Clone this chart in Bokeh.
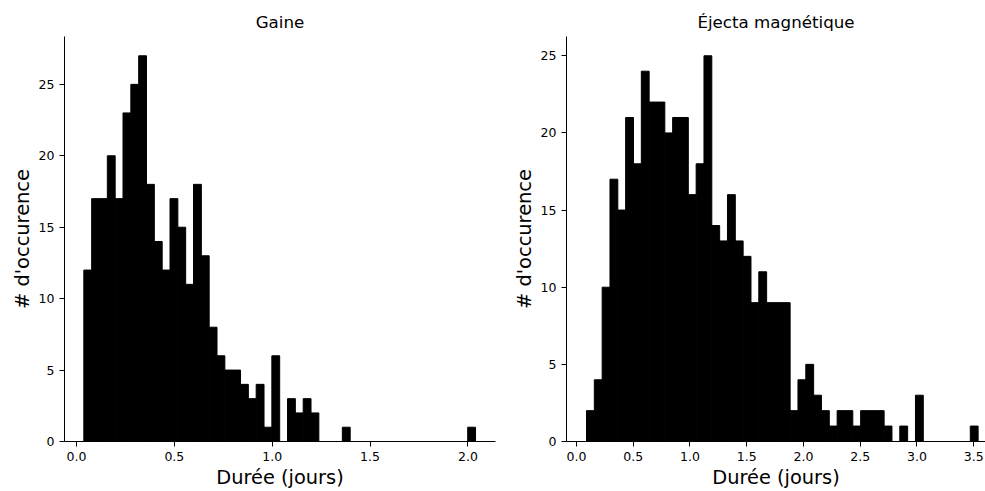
import numpy as np
from bokeh.plotting import figure
from bokeh.layouts import row
from bokeh.models import Range1d, FixedTicker, PrintfTickFormatter
from bokeh.embed import file_html
from bokeh.resources import INLINE

# ---- data (50-bin histograms) ----
gaine_counts = [12, 17, 17, 20, 17, 23, 25, 27, 18, 14,
                12, 17, 15, 11, 18, 13, 8, 6, 5, 5,
                4, 3, 4, 1, 6, 0, 3, 2, 3, 2,
                0, 0, 0, 1, 0, 0, 0, 0, 0, 0,
                0, 0, 0, 0, 0, 0, 0, 0, 0, 1]
gaine_min, gaine_max = 0.0375, 2.039

ejecta_counts = [2, 4, 10, 17, 15, 21, 18, 24, 22, 22,
                 20, 21, 21, 16, 18, 25, 14, 13, 16, 13,
                 12, 9, 11, 9, 9, 9, 2, 4, 5, 3,
                 2, 1, 2, 2, 1, 2, 2, 2, 1, 0,
                 1, 0, 3, 0, 0, 0, 0, 0, 0, 1]
ejecta_min, ejecta_max = 0.088, 3.539

gaine_xticks = [0.0, 0.5, 1.0, 1.5, 2.0]
ejecta_xticks = [0.0, 0.5, 1.0, 1.5, 2.0, 2.5, 3.0, 3.5]
y_ticks = [0, 5, 10, 15, 20, 25]

titles = ["Gaine", "Éjecta magnétique"]
x_label = "Durée (jours)"
y_label = "# d'occurence"

FONT = "DejaVu Sans"


def make_fig(title, counts, lo, hi, xticks, width, b_left, b_right,
             xr, y_end, title_offset):
    p = figure(width=width, height=491, output_backend="svg",
               toolbar_location=None, title=title,
               x_range=Range1d(*xr), y_range=Range1d(0, y_end),
               min_border_left=b_left, min_border_right=b_right,
               min_border_top=36, min_border_bottom=50)
    edges = np.linspace(lo, hi, len(counts) + 1)
    p.quad(left=edges[:-1], right=edges[1:], top=counts, bottom=0,
           fill_color="black", line_color="black", line_width=1)
    p.title.text_font = FONT
    p.title.text_font_size = "16.7px"
    p.title.text_font_style = "normal"
    p.title.text_color = "black"
    p.title.align = "center"
    p.title.offset = title_offset
    p.title.standoff = 9
    p.grid.visible = False
    p.outline_line_color = None
    p.background_fill_color = "white"
    p.border_fill_color = "white"
    p.xaxis.ticker = FixedTicker(ticks=xticks)
    p.xaxis.formatter = PrintfTickFormatter(format="%.1f")
    p.yaxis.ticker = FixedTicker(ticks=y_ticks)
    p.xaxis.axis_label = x_label
    p.yaxis.axis_label = y_label
    for ax in (p.xaxis[0], p.yaxis[0]):
        ax.axis_line_color = "black"
        ax.axis_line_width = 1
        ax.major_tick_line_color = "black"
        ax.major_tick_line_width = 1
        ax.major_tick_out = 5
        ax.major_tick_in = 0
        ax.minor_tick_line_color = None
        ax.major_label_text_font = FONT
        ax.major_label_text_font_size = "12.5px"
        ax.major_label_text_color = "black"
        ax.major_label_standoff = 5
        ax.axis_label_text_font = FONT
        ax.axis_label_text_font_size = "19.4px"
        ax.axis_label_text_font_style = "normal"
        ax.axis_label_text_color = "black"
        ax.axis_label_standoff = 2
    return p


p1 = make_fig(titles[0], gaine_counts, gaine_min, gaine_max, gaine_xticks,
              505, 64, 10, (-0.0613, 2.141), 28.35, 0)
p2 = make_fig(titles[1], ejecta_counts, ejecta_min, ejecta_max, ejecta_xticks,
              480, 61, 0, (-0.0881, 3.604), 26.25, 6)

layout = row(p1, p2)
open("out.html", "w").write(file_html(layout, INLINE))
